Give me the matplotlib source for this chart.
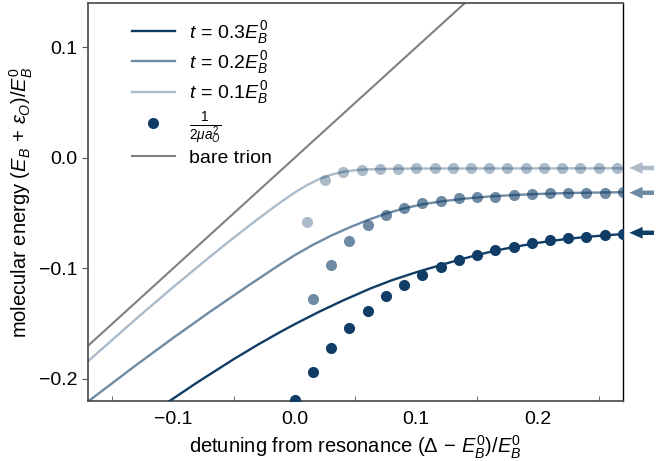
import matplotlib
matplotlib.use("Agg")
import matplotlib.pyplot as plt
from matplotlib.ticker import FixedLocator

plt.rcParams['font.family'] = ['Liberation Sans', 'DejaVu Sans']
plt.rcParams['mathtext.fontset'] = 'custom'
plt.rcParams['mathtext.rm'] = 'Liberation Sans'
plt.rcParams['mathtext.it'] = 'Liberation Sans:italic'
plt.rcParams['mathtext.bf'] = 'Liberation Sans:bold'

# ---- data ----
bare_x = [-0.17, 0.27]
bare_y = [-0.17, 0.27]

line_t03_x = [-0.17, -0.13, -0.103, -0.08, -0.05, -0.03, -0.012, 0.0, 0.02, 0.04, 0.062, 0.08,
              0.10, 0.117, 0.135, 0.15, 0.165, 0.18, 0.20, 0.22, 0.24, 0.27]
line_t03_y = [-0.2731, -0.2411, -0.2200, -0.2030, -0.1820, -0.1688, -0.1576, -0.1505, -0.1393,
              -0.1289, -0.1183, -0.1107, -0.1035, -0.0980, -0.0923, -0.0879, -0.0840, -0.0807,
              -0.0769, -0.0739, -0.0715, -0.0689]

line_t02_x = [-0.17, -0.13, -0.10, -0.07, -0.04, -0.012, 0.0, 0.015, 0.03, 0.045, 0.06,
              0.075, 0.09, 0.105, 0.12, 0.14, 0.16, 0.18, 0.20, 0.23, 0.27]
line_t02_y = [-0.2204, -0.1871, -0.1629, -0.1395, -0.1169, -0.0964, -0.0881, -0.0787, -0.0704,
              -0.0630, -0.0563, -0.0505, -0.0457, -0.0421, -0.0395, -0.0369, -0.0350, -0.0337,
              -0.0327, -0.0317, -0.0311]

line_t01_x = [-0.17, -0.13, -0.10, -0.07, -0.05, -0.03, -0.012, 0.0, 0.01, 0.02, 0.03, 0.04,
              0.05, 0.06, 0.08, 0.10, 0.27]
line_t01_y = [-0.184, -0.1452, -0.1170, -0.0897, -0.0721, -0.0551, -0.0405, -0.0314, -0.0248,
              -0.0193, -0.0153, -0.0127, -0.0112, -0.0105, -0.0099, -0.0097, -0.0095]

dots_t03_x = [0.0, 0.015, 0.03, 0.045, 0.06, 0.075, 0.09, 0.105, 0.12, 0.135, 0.15, 0.165,
              0.18, 0.195, 0.21, 0.225, 0.24, 0.255, 0.27]
dots_t03_y = [-0.2186, -0.194, -0.1716, -0.1538, -0.1385, -0.1253, -0.1147, -0.106, -0.0991,
              -0.0925, -0.0876, -0.0835, -0.0804, -0.0774, -0.0745, -0.0728, -0.0716, -0.0698, -0.0692]

dots_t02_x = [0.015, 0.03, 0.045, 0.06, 0.075, 0.09, 0.105, 0.12, 0.135, 0.15, 0.165,
              0.18, 0.195, 0.21, 0.225, 0.24, 0.255, 0.27]
dots_t02_y = [-0.128, -0.0967, -0.075, -0.0608, -0.0515, -0.0452, -0.041, -0.0388, -0.0368,
              -0.0359, -0.035, -0.0338, -0.0328, -0.0322, -0.0319, -0.0317, -0.0315, -0.0313]

dots_t01_x = [0.01, 0.025, 0.04, 0.055, 0.07, 0.085, 0.10, 0.115, 0.13, 0.145, 0.16, 0.175,
              0.19, 0.205, 0.22, 0.235, 0.25, 0.265]
dots_t01_y = [-0.058, -0.020, -0.0124, -0.0108, -0.0100, -0.0097, -0.0096, -0.0096, -0.0096,
              -0.0096, -0.0096, -0.0096, -0.0096, -0.0096, -0.0096, -0.0096, -0.0096, -0.0096]

asymptotes = [-0.0678, -0.0316, -0.0092]

labels = [r'$t\,=\,0.3E_B^0$', r'$t\,=\,0.2E_B^0$', r'$t\,=\,0.1E_B^0$']
dot_label = r'$\frac{1}{2\mu a_O^2}$'
bare_label = 'bare trion'

base = '#0f3d66'
alphas = [1.0, 0.6, 0.35]

fig = plt.figure(figsize=(6.72, 4.61), dpi=100)
ax = fig.add_axes([0.131, 0.130, 0.796, 0.8635])

lines_x = [line_t03_x, line_t02_x, line_t01_x]
lines_y = [line_t03_y, line_t02_y, line_t01_y]
dots_x = [dots_t03_x, dots_t02_x, dots_t01_x]
dots_y = [dots_t03_y, dots_t02_y, dots_t01_y]

handles = []
for i in range(3):
    h, = ax.plot(lines_x[i], lines_y[i], color=base, alpha=alphas[i], lw=1.7, zorder=3,
                 solid_joinstyle='round')
    handles.append(h)
for i in range(3):
    ax.plot(dots_x[i], dots_y[i], 'o', color=base, alpha=alphas[i], ms=8, mec='none',
            zorder=4)
hd, = ax.plot([], [], 'o', color=base, ms=8, mec='none')
hb, = ax.plot(bare_x, bare_y, color='gray', lw=1.5, zorder=2)

for i in range(3):
    ax.annotate('', xy=(1.012, asymptotes[i]), xycoords=('axes fraction', 'data'),
                xytext=(1.058, asymptotes[i]), textcoords=('axes fraction', 'data'),
                arrowprops=dict(facecolor=base, edgecolor='none', alpha=alphas[i],
                                width=3.2, headwidth=8.5, headlength=9.5, shrink=0),
                annotation_clip=False)

ax.set_xlim(-0.17, 0.27)
ax.set_ylim(-0.22, 0.14)

ax.xaxis.set_major_locator(FixedLocator([-0.1, 0.0, 0.1, 0.2]))
ax.xaxis.set_minor_locator(FixedLocator([-0.15, -0.05, 0.05, 0.15, 0.25]))
ax.yaxis.set_major_locator(FixedLocator([-0.2, -0.1, 0.0, 0.1]))
ax.tick_params(axis='x', which='major', length=0, pad=7, labelsize=14)
ax.tick_params(axis='x', which='minor', direction='in', length=3.5, color='#555555')
ax.tick_params(axis='y', which='major', direction='out', length=4, color='#555555', labelsize=14)

for s in ['left', 'top', 'bottom']:
    ax.spines[s].set_color('#555555')
    ax.spines[s].set_linewidth(1.3)
ax.spines['right'].set_color('black')
ax.spines['right'].set_linewidth(1.0)

ax.set_xlabel(r'detuning from resonance $(\Delta\,-\,E_B^0)/E_B^0$', fontsize=14.5, labelpad=4)
ax.set_ylabel(r'molecular energy $(E_B\,+\,\varepsilon_O)/E_B^0$', fontsize=14.5, labelpad=3)

ax.legend(handles + [hd, hb], labels + [dot_label, bare_label], loc='upper left',
          frameon=False, fontsize=14, bbox_to_anchor=(0.06, 0.99), handlelength=2.2,
          labelspacing=0.18, borderaxespad=0.2, handletextpad=0.75)

fig.savefig('out.png', dpi=100)
